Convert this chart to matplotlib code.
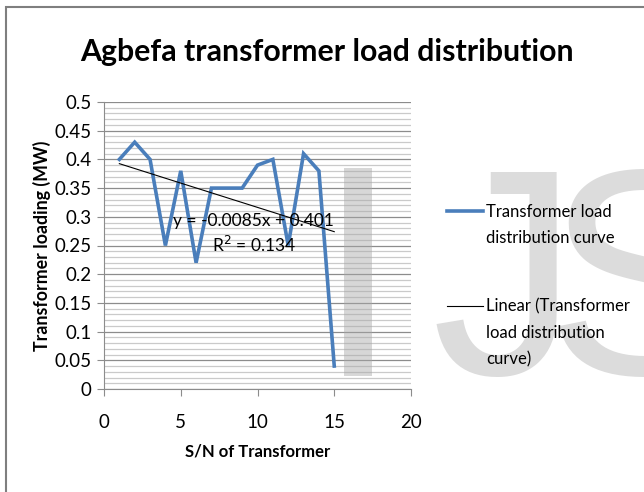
import numpy as np
import matplotlib
matplotlib.use("Agg")
import matplotlib.pyplot as plt
from matplotlib.patches import Rectangle

plt.rcParams['font.family'] = ['Lato', 'DejaVu Sans']

# transformer serial numbers and loading (MW)
sn = [1, 2, 3, 4, 5, 6, 7, 8, 9, 10, 11, 12, 13, 14, 15]
load_mw = [0.40, 0.43, 0.40, 0.25, 0.38, 0.22, 0.35, 0.35, 0.35, 0.39,
           0.40, 0.25, 0.41, 0.38, 0.04]
x_ticks = [0, 5, 10, 15, 20]
y_ticks = [0, 0.05, 0.1, 0.15, 0.2, 0.25, 0.3, 0.35, 0.4, 0.45, 0.5]
y_tick_labels = ['0', '0.05', '0.1', '0.15', '0.2', '0.25', '0.3', '0.35', '0.4', '0.45', '0.5']
trend_label = 'y = -0.0085x + 0.401\nR$^2$ = 0.134'

sn = np.array(sn)
load_mw = np.array(load_mw)
slope, icept = np.polyfit(sn, load_mw, 1)

fig = plt.figure(figsize=(6.44, 4.92), dpi=100)
fig.patch.set_facecolor('white')
W, H = 644.0, 492.0
ax = fig.add_axes([104 / W, 1 - 389 / H, 307 / W, 287 / H])

blue = '#4a7ebb'
l1, = ax.plot(sn, load_mw, color=blue, lw=2.6, solid_joinstyle='miter',
              label='Transformer load\ndistribution curve', zorder=3)
l2, = ax.plot(sn, slope * sn + icept, color='black', lw=0.8,
              label='Linear (Transformer\nload distribution\ncurve)', zorder=4)

ax.text(9.75, 0.270, trend_label, ha='center', va='center', fontsize=12.5,
        linespacing=1.4, zorder=5)

ax.set_xlim(0, 20)
ax.set_ylim(0, 0.5)
ax.set_xticks(x_ticks)
ax.set_yticks(y_ticks)
ax.set_yticklabels(y_tick_labels)
ax.set_yticks(np.arange(0, 0.5, 0.01), minor=True)
ax.yaxis.grid(True, which='major', color='#8c8c8c', lw=0.9)
ax.yaxis.grid(True, which='minor', color='#cacaca', lw=0.9)
ax.set_axisbelow(True)
for s in ['top', 'right']:
    ax.spines[s].set_visible(False)
for s in ['left', 'bottom']:
    ax.spines[s].set_color('#8c8c8c')
ax.tick_params(which='major', direction='out', length=5, color='#8c8c8c',
               labelsize=13.5, pad=4)
ax.tick_params(axis='y', which='minor', length=0)
ax.tick_params(axis='x', pad=13)

ax.set_xlabel('S/N of Transformer', fontsize=12, fontweight='bold', labelpad=9)
ax.set_ylabel('Transformer loading (MW)', fontsize=12.8, fontweight='bold', labelpad=2)
fig.text(327 / W, 1 - 52 / H, 'Agbefa transformer load distribution',
         ha='center', va='center', fontsize=21.8, fontweight='bold')

leg = fig.legend(handles=[l1, l2], loc='upper left', bbox_to_anchor=(447 / W, 1 - 204 / H),
                 frameon=False, fontsize=12, handlelength=2.15, handletextpad=0.2,
                 handleheight=1.2, labelspacing=3.15, borderpad=0, borderaxespad=0)
for t in leg.get_texts():
    t.set_linespacing(1.78)
# put the legend line next to the first line of each label, as Excel does
for col in leg._legend_handle_box.get_children():
    for row in col.get_children():
        row.align = 'top'

# watermark
fig.text(431 / W, 1 - 374 / H, 'J', family='Liberation Sans', fontsize=211,
         color='#dcdcdc', va='baseline', ha='left', zorder=1)
fig.text(546 / W, 1 - 374 / H, 'S', family='Liberation Sans', fontsize=211,
         color='#dcdcdc', va='baseline', ha='left', zorder=1)
fig.patches.append(Rectangle((344 / W, 1 - 376 / H), 28 / W, 208 / H,
                             transform=fig.transFigure, facecolor='#a8a8a8',
                             alpha=0.45, edgecolor='none', zorder=2))

# chart frame
fig.patches.append(Rectangle((6 / W, -0.2), 1.5, 1.2 - 7 / H,
                             transform=fig.transFigure, facecolor='none',
                             edgecolor='#7f7f7f', lw=1.5, zorder=10))

fig.savefig('out.png', dpi=100)
